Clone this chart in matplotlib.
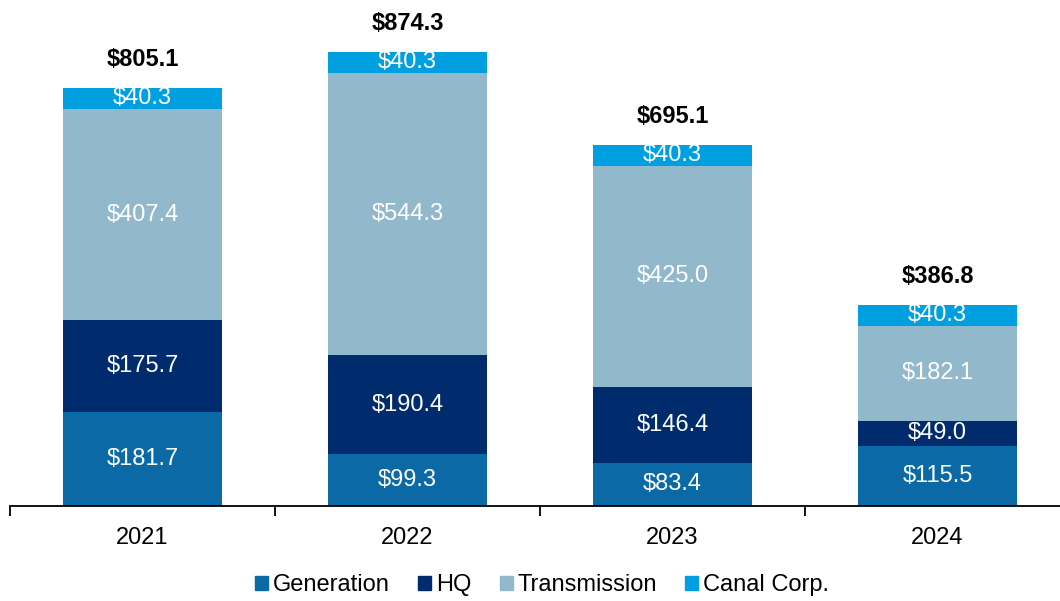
import numpy as np
import matplotlib.pyplot as plt
from matplotlib.patches import Patch

plt.rcParams['font.family'] = ['Liberation Sans', 'DejaVu Sans']

# ---- data ----
years = ['2021', '2022', '2023', '2024']
generation = [181.7, 99.3, 83.4, 115.5]
hq = [175.7, 190.4, 146.4, 49.0]
transmission = [407.4, 544.3, 425.0, 182.1]
canal = [40.3, 40.3, 40.3, 40.3]
totals = [805.1, 874.3, 695.1, 386.8]

series = [
    ('Generation', generation, '#0B6AA6'),
    ('HQ', hq, '#002C6E'),
    ('Transmission', transmission, '#92B9CB'),
    ('Canal Corp.', canal, '#009FDF'),
]

W, H = 1060, 601
fig = plt.figure(figsize=(W / 100, H / 100), dpi=100)
ax = fig.add_axes([10 / W, 95 / H, 1050 / W, 506 / H])

x = np.arange(len(years))
bottom = np.zeros(len(years))
for name, vals, color in series:
    vals = np.array(vals)
    ax.bar(x, vals, 0.6, bottom=bottom, color=color, label=name)
    for xi, b, v in zip(x, bottom, vals):
        ax.text(xi, b + v / 2, f'${v:.1f}', ha='center', va='center',
                color='white', fontsize=17)
    bottom += vals

for xi, b, t in zip(x, bottom, totals):
    ax.annotate(f'${t:.1f}', (xi, b), xytext=(0, 12), textcoords='offset points',
                ha='center', va='bottom', fontsize=17, fontweight='bold')

ax.set_xlim(-0.5, 3.5 - 10 / 265)
ax.set_ylim(0, 974)
ax.set_yticks([])
for s in ['top', 'right', 'left']:
    ax.spines[s].set_visible(False)
ax.spines['bottom'].set_linewidth(1.3)

ax.set_xticks(x)
ax.set_xticklabels(years, fontsize=17)
ax.tick_params(axis='x', which='major', length=0, pad=15)
ax.set_xticks(np.arange(len(years)) - 0.5, minor=True)
ax.tick_params(axis='x', which='minor', length=7, width=1.3)

handles = [Patch(color=c, label=n) for n, _, c in series]
fig.legend(handles=handles, loc='center', bbox_to_anchor=(542 / W, 1 - 585 / H),
           ncol=4, frameon=False, fontsize=17, handlelength=0.55, handleheight=0.55,
           handletextpad=0.2, columnspacing=1.2)

fig.savefig('out.png', dpi=100)
